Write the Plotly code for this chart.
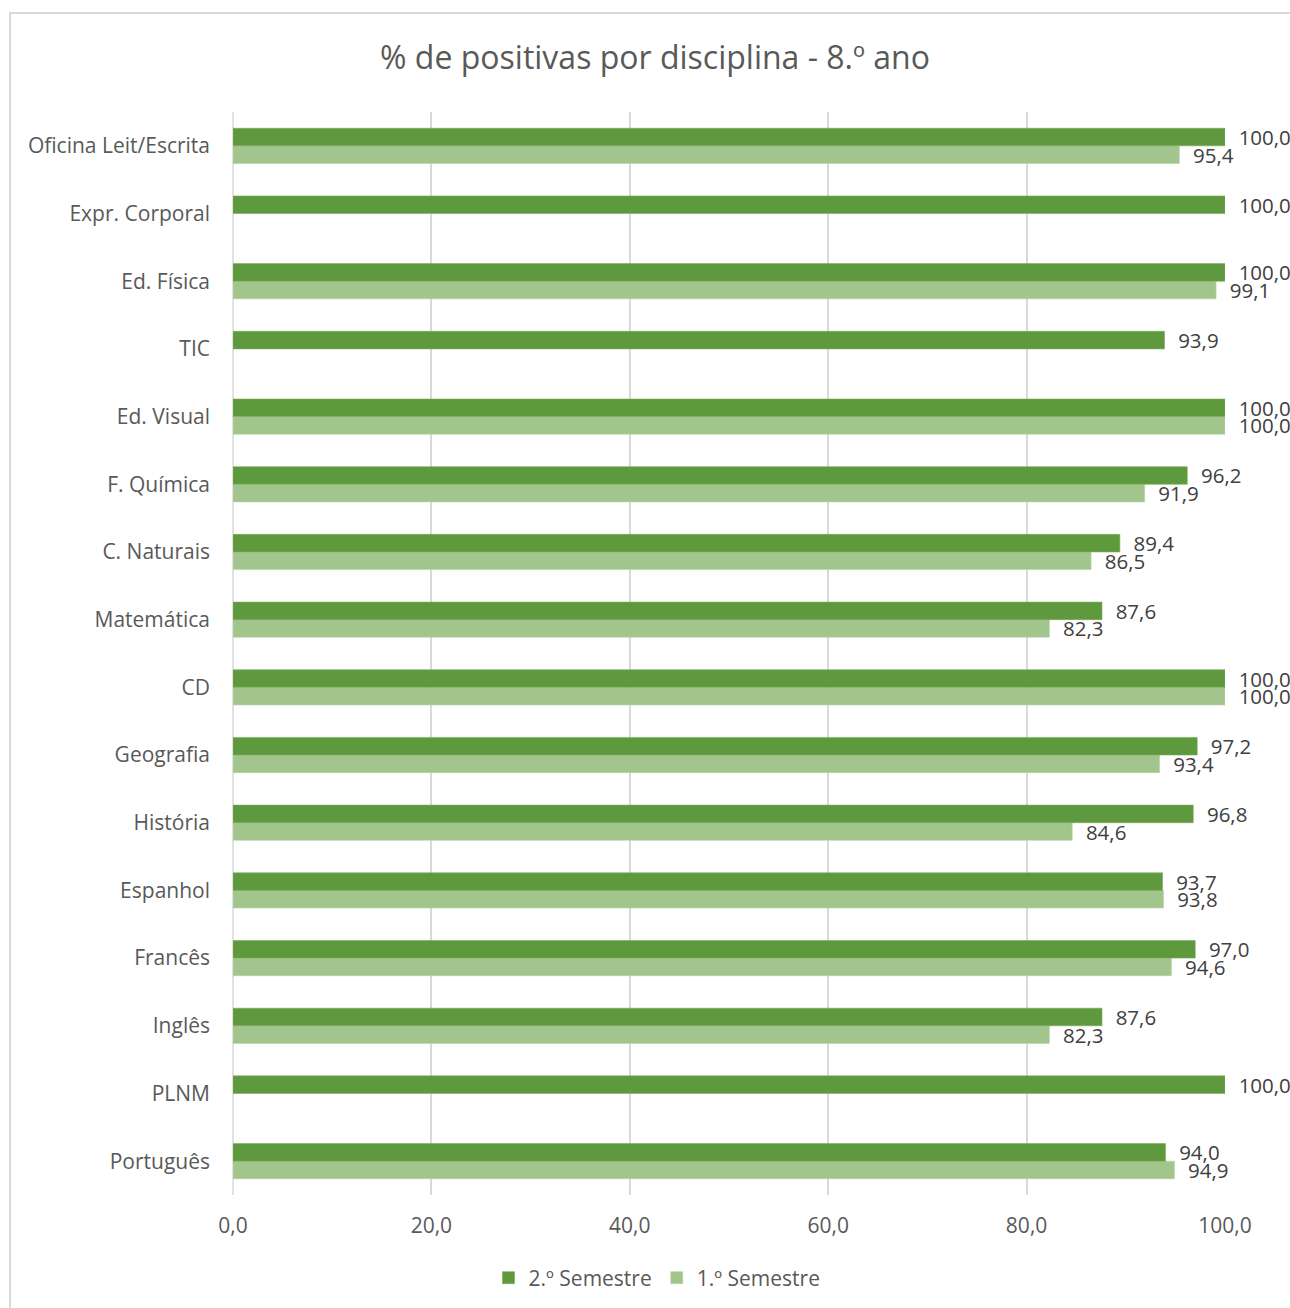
import plotly.graph_objects as go

categories = ["Português", "PLNM", "Inglês", "Francês", "Espanhol", "História",
              "Geografia", "CD", "Matemática", "C. Naturais", "F. Química",
              "Ed. Visual", "TIC", "Ed. Física", "Expr. Corporal", "Oficina Leit/Escrita"]
sem2 = [94.0, 100.0, 87.6, 97.0, 93.7, 96.8, 97.2, 100.0, 87.6, 89.4, 96.2,
        100.0, 93.9, 100.0, 100.0, 100.0]
sem1 = [94.9, None, 82.3, 94.6, 93.8, 84.6, 93.4, 100.0, 82.3, 86.5, 91.9,
        100.0, None, 99.1, None, 95.4]
x_ticks = [0, 20, 40, 60, 80, 100]

FONT = "Open Sans"
W, H = 1290, 1308
L, R, T, B = 233, 65, 112, 113
pw = W - L - R
ph = H - T - B

def px_x(p):
    return (p - L) / pw

def px_y(p):
    return (H - B - p) / ph

fig = go.Figure()
fig.add_trace(go.Bar(
    y=categories, x=sem1, orientation="h", name="1.º Semestre",
    marker=dict(color="#a2c58e", line=dict(color="#b5d3a3", width=0.6)),
    texttemplate="\u00a0\u00a0%{x:.1f}", textposition="outside",
    textfont=dict(family=FONT, size=20.5, color="#404040"),
    constraintext="none", cliponaxis=False, legendrank=2,
))
fig.add_trace(go.Bar(
    y=categories, x=sem2, orientation="h", name="2.º Semestre",
    marker=dict(color="#5f993d", line=dict(color="#7aab5d", width=0.6)),
    texttemplate="\u00a0\u00a0%{x:.1f}", textposition="outside",
    textfont=dict(family=FONT, size=20.5, color="#404040"),
    constraintext="none", cliponaxis=False, legendrank=1,
))

fig.update_layout(
    width=W, height=H,
    margin=dict(l=L, r=R, t=T, b=B),
    paper_bgcolor="white", plot_bgcolor="white",
    barmode="group", bargap=0.48, bargroupgap=0,
    separators=",.",
    title=dict(text="% de positivas por disciplina - 8.º ano",
               font=dict(family=FONT, size=32, color="#595959"),
               x=655 / W, xanchor="center",
               y=1 - 58 / H, yanchor="middle"),
    font=dict(family=FONT, color="#595959"),
    showlegend=True,
    legend=dict(orientation="h", x=657 / W, xref="container", xanchor="center",
                y=1 - 1278 / H, yref="container", yanchor="middle",
                font=dict(family=FONT, size=21, color="#595959"),
                itemwidth=30),
    xaxis=dict(range=[0, 100], tickvals=x_ticks, tickformat=".1f",
               showgrid=True, gridcolor="#d9d9d9", gridwidth=1.5,
               zeroline=False, showline=False, ticks="",
               tickfont=dict(family=FONT, size=21, color="#595959"),
               ticklabelstandoff=16, fixedrange=True),
    yaxis=dict(categoryorder="array", categoryarray=categories,
               showgrid=False, zeroline=False, showline=False, ticks="",
               tickfont=dict(family=FONT, size=21, color="#595959"),
               ticklabelstandoff=22, fixedrange=True),
    shapes=[
        dict(type="line", xref="paper", yref="paper", x0=0, x1=0, y0=0, y1=1,
             line=dict(color="#d9d9d9", width=1.5), layer="below"),
        dict(type="rect", xref="paper", yref="paper",
             x0=px_x(10), x1=px_x(1400), y0=px_y(1400), y1=px_y(13),
             line=dict(color="#d9d9d9", width=2), layer="below"),
    ],
)

fig.write_html(
    "out.html",
    config={"displayModeBar": False},
    post_script="document.body.style.margin='0';document.body.style.overflow='hidden';",
)
